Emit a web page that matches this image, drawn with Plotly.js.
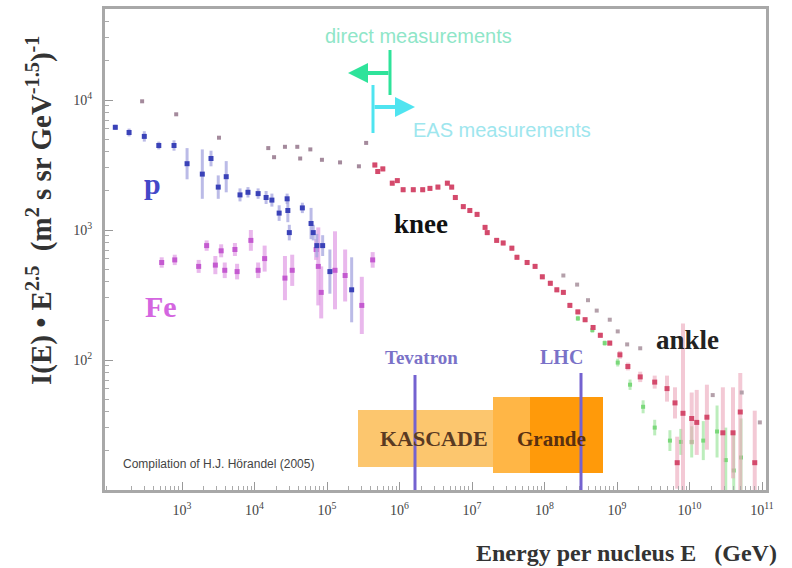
<!DOCTYPE html>
<html>
<head>
<meta charset="utf-8">
<script src="https://cdn.plot.ly/plotly-3.0.1.min.js"></script>
<style>html,body{margin:0;padding:0;background:#fff;}#chart{width:792px;height:568px;}</style>
</head>
<body>
<div id="chart"></div>
<script>
// ---- data (log10 of energy per nucleus in GeV, log10 of I(E)*E^2.5) ----
// direct measurements: protons
const pLogE = [2.08,2.27,2.48,2.68,2.89,3.07,3.28,3.40,3.50,3.61,3.80,3.91,4.05,4.16,4.24,4.34,4.45,4.46,4.48,4.66,4.78,4.81,4.86,4.94,5.04,5.34];
const pLogI = [3.79,3.75,3.72,3.65,3.65,3.51,3.43,3.55,3.33,3.41,3.27,3.29,3.28,3.25,3.23,3.13,3.24,3.15,2.98,3.17,3.05,2.98,2.88,2.88,2.68,2.54];
const pErr  = [0.02,0.03,0.04,0.03,0.04,0.12,0.19,0.06,0.09,0.12,0.05,0.04,0.04,0.05,0.05,0.06,0.04,0.09,0.06,0.04,0.12,0.06,0.09,0.08,0.17,0.25];
// direct measurements: iron
const feLogE = [2.72,2.90,3.23,3.34,3.46,3.54,3.59,3.73,3.76,3.95,4.05,4.14,4.42,4.52,4.85,4.88,4.92,5.11,5.25,5.48,5.63];
const feLogI = [2.75,2.77,2.72,2.88,2.73,2.84,2.69,2.85,2.68,2.92,2.69,2.78,2.63,2.69,2.85,2.72,2.52,2.69,2.65,2.42,2.77];
const feErr  = [0.04,0.04,0.05,0.04,0.07,0.05,0.06,0.05,0.06,0.08,0.06,0.10,0.17,0.12,0.08,0.30,0.20,0.30,0.20,0.22,0.06];
// direct measurements: all particles
const allDirLogE = [2.45,2.92,3.51,4.19,4.27,4.42,4.59,4.63,4.77,4.93,5.18,5.44,5.54];
const allDirLogI = [3.99,3.89,3.71,3.63,3.56,3.64,3.64,3.55,3.62,3.54,3.52,3.49,3.67];
// EAS measurements: all particles (main series)
const easLogE = [5.66,5.70,5.77,5.90,5.97,6.05,6.19,6.32,6.42,6.53,6.66,6.72,6.77,6.88,6.97,7.07,7.18,7.21,7.34,7.43,7.55,7.62,7.76,7.87,7.97,8.08,8.17,8.26,8.35,8.46,8.56,8.67,8.77,8.90,9.04,9.15,9.32,9.52,9.69,9.80,9.83,9.91,10.03,10.10,10.24,10.46,10.60,10.70,10.90];
const easLogI = [3.50,3.45,3.47,3.36,3.38,3.31,3.31,3.31,3.32,3.33,3.36,3.33,3.25,3.18,3.15,3.12,3.02,2.98,2.92,2.90,2.86,2.79,2.75,2.72,2.64,2.59,2.54,2.52,2.42,2.37,2.31,2.25,2.19,2.13,2.04,1.95,1.87,1.83,1.78,1.67,1.21,1.59,1.55,1.52,1.56,1.44,1.44,1.60,1.21];
const easErrUp = [0.02,0.02,0.02,0.02,0.02,0.02,0.02,0.02,0.02,0.02,0.02,0.02,0.02,0.02,0.02,0.02,0.02,0.02,0.02,0.02,0.02,0.02,0.02,0.02,0.02,0.02,0.02,0.02,0.02,0.02,0.02,0.02,0.02,0.02,0.03,0.03,0.04,0.05,0.10,0.12,0.20,0.69,0.20,0.25,0.25,0.35,0.35,0.30,0.40];
const easErrDn = [0.02,0.02,0.02,0.02,0.02,0.02,0.02,0.02,0.02,0.02,0.02,0.02,0.02,0.02,0.02,0.02,0.02,0.02,0.02,0.02,0.02,0.02,0.02,0.02,0.02,0.02,0.02,0.02,0.02,0.02,0.02,0.02,0.02,0.02,0.03,0.03,0.04,0.05,0.10,0.12,0.20,0.59,0.20,0.25,0.25,0.44,0.35,0.60,0.21];
// EAS: second (green) series
const grLogE = [8.46,8.66,8.83,9.01,9.18,9.36,9.52,9.73,9.88,10.03,10.19,10.38,10.50,10.61,10.71];
const grLogI = [2.32,2.23,2.13,1.98,1.81,1.64,1.48,1.38,1.37,1.37,1.38,1.45,1.23,1.15,1.25];
const grErr  = [0.02,0.02,0.02,0.03,0.04,0.05,0.06,0.08,0.10,0.12,0.15,0.20,0.25,0.30,0.30];
// EAS: third (grey) series
const gyLogE = [8.26,8.45,8.60,8.72,8.90,9.01,9.14,9.32,10.32,10.72,10.97];
const gyLogI = [2.65,2.58,2.46,2.38,2.31,2.22,2.12,2.09,1.73,1.75,1.52];

// axis tick labels
const xTickExp = [3,4,5,6,7,8,9,10,11];
const yTickExp = [2,3,4];

// ---- helpers ----
const lin = a => a.map(v => Math.pow(10, v));
const errPlus  = (y, e) => y.map((v, i) => Math.pow(10, v + e[i]) - Math.pow(10, v));
const errMinus = (y, e) => y.map((v, i) => Math.pow(10, v) - Math.pow(10, v - e[i]));

function series(lx, ly, color, size, eUp, eDn, ecolor, ethick) {
  const t = {
    x: lin(lx), y: lin(ly), type: 'scatter', mode: 'markers',
    marker: {symbol: 'square', size: size, color: color, line: {width: 0}},
    hoverinfo: 'x+y'
  };
  if (eUp) {
    t.error_y = {type: 'data', symmetric: false, array: errPlus(ly, eUp),
      arrayminus: errMinus(ly, eDn || eUp), color: ecolor, thickness: ethick, width: 0};
  }
  return t;
}

const traces = [
  series(feLogE, feLogI, '#c45ad0', 5, feErr, feErr, 'rgba(225,160,230,0.75)', 4),
  series(pLogE, pLogI, '#3a42b8', 5, pErr, pErr, 'rgba(170,170,225,0.8)', 3),
  series(allDirLogE, allDirLogI, '#a48a9c', 4),
  series(grLogE, grLogI, '#7ad87a', 4, grErr, grErr, 'rgba(160,230,160,0.7)', 3),
  series(easLogE, easLogI, '#d44a6c', 5, easErrUp, easErrDn, 'rgba(235,165,185,0.6)', 4),
  series(gyLogE, gyLogI, '#b4a0aa', 4)
];

// minor ticks (axis decoration)
const minorX = [], minorY = [];
for (let k = 1; k <= 11; k++) for (let m = 2; m <= 9; m++) { minorX.push(m * Math.pow(10, k)); }
for (let k = 1; k <= 4; k++) for (let m = 2; m <= 9; m++) { minorY.push(m * Math.pow(10, k)); }

// pixel -> paper helpers for decorations
const L = 105, R = 766, T = 9, B = 490;
const px = x => (x - L) / (R - L);
const py = y => (B - y) / (B - T);

const serif = 'Liberation Serif';
const sans = 'Liberation Sans';

function label(x, y, text, family, size, color, extra) {
  return Object.assign({xref: 'paper', yref: 'paper', x: px(x), y: py(y), text: text,
    showarrow: false, xanchor: 'center', yanchor: 'middle',
    font: {family: family, size: size, color: color}}, extra || {});
}

const axisCommon = {
  type: 'log', showline: true, linecolor: '#a8a8a8', linewidth: 3, mirror: true,
  ticks: 'inside', ticklen: 8, tickcolor: '#999', tickwidth: 1,
  showgrid: false, zeroline: false,
  tickfont: {family: serif, size: 14, color: '#444'}
};

const layout = {
  width: 792, height: 568,
  margin: {l: L, r: 792 - R, t: T, b: 568 - B},
  paper_bgcolor: '#ffffff', plot_bgcolor: '#ffffff',
  showlegend: false,
  xaxis: Object.assign({}, axisCommon, {
    range: [1.938, 11.055], tickmode: 'array',
    tickvals: xTickExp.map(e => Math.pow(10, e)),
    ticktext: xTickExp.map(e => '10<sup>' + e + '</sup>'),
    ticklabelstandoff: 5,
    minor: {tickmode: 'array', tickvals: minorX, ticks: 'inside', ticklen: 4, tickcolor: '#aaa', showgrid: false}
  }),
  yaxis: Object.assign({}, axisCommon, {
    range: [1.0, 4.7], tickmode: 'array',
    tickvals: yTickExp.map(e => Math.pow(10, e)),
    ticktext: yTickExp.map(e => '10<sup>' + e + '</sup>'),
    ticklabelstandoff: 7,
    minor: {tickmode: 'array', tickvals: minorY, ticks: 'inside', ticklen: 4, tickcolor: '#aaa', showgrid: false}
  }),
  shapes: [
    // KASCADE box
    {type: 'rect', xref: 'paper', yref: 'paper', x0: px(358), x1: px(530), y0: py(467), y1: py(410),
      fillcolor: '#fcc66e', line: {width: 0}, layer: 'above'},
    // Grande box
    {type: 'rect', xref: 'paper', yref: 'paper', x0: px(493), x1: px(603), y0: py(473), y1: py(397),
      fillcolor: '#ff9a0a', line: {width: 0}, layer: 'above'},
    {type: 'rect', xref: 'paper', yref: 'paper', x0: px(493), x1: px(530), y0: py(473), y1: py(397),
      fillcolor: 'rgba(255,205,120,0.55)', line: {width: 0}, layer: 'above'},
    // Tevatron and LHC lines
    {type: 'line', xref: 'paper', yref: 'paper', x0: px(415), x1: px(415), y0: 0, y1: py(375),
      line: {color: '#7462d0', width: 3}, layer: 'above'},
    {type: 'line', xref: 'paper', yref: 'paper', x0: px(581), x1: px(581), y0: 0, y1: py(373),
      line: {color: '#7462d0', width: 3}, layer: 'above'},
    // arrow end bars
    {type: 'line', xref: 'paper', yref: 'paper', x0: px(390), x1: px(390), y0: py(95), y1: py(50),
      line: {color: '#2ee39a', width: 3}},
    {type: 'line', xref: 'paper', yref: 'paper', x0: px(373), x1: px(373), y0: py(133), y1: py(85),
      line: {color: '#4fe4f0', width: 3}}
  ],
  annotations: [
    {xref: 'paper', yref: 'paper', x: px(348), y: py(73), ax: 42, ay: 0, text: '', showarrow: true,
      arrowhead: 2, arrowsize: 1, arrowwidth: 4, arrowcolor: '#2ee39a'},
    {xref: 'paper', yref: 'paper', x: px(415), y: py(107), ax: -42, ay: 0, text: '', showarrow: true,
      arrowhead: 2, arrowsize: 1, arrowwidth: 4, arrowcolor: '#4fe4f0'},
    label(418, 36, 'direct measurements', sans, 20, '#8fe6c8'),
    label(502, 130, 'EAS measurements', sans, 20, '#9ee6ee'),
    label(152, 183, '<b>p</b>', serif, 30, '#4448c8'),
    label(161, 307, '<b>Fe</b>', serif, 30, '#d466e0'),
    label(421, 224, '<b>knee</b>', serif, 27, '#111'),
    label(687, 340, '<b>ankle</b>', serif, 27, '#222'),
    label(421, 357, '<b>Tevatron</b>', serif, 19, '#7a72c8'),
    label(561, 357, '<b>LHC</b>', serif, 20, '#7a72c8'),
    label(434, 438, '<b>KASCADE</b>', serif, 22, '#5a3a22'),
    label(551, 439, '<b>Grande</b>', serif, 21, '#5a3010'),
    label(121, 464, 'Compilation of H.J. Hörandel (2005)', sans, 12, '#444', {xanchor: 'left'}),
    label(40, 210, '<b>I(E) • E<sup>2.5</sup>  (m<sup>2</sup> s sr GeV<sup>-1.5</sup>)<sup>-1</sup></b>', serif, 29, '#333', {textangle: -90}),
    label(779, 553, '<b>Energy per nucleus E   (GeV)</b>', serif, 24, '#333', {xanchor: 'right'})
  ]
};

Plotly.newPlot('chart', traces, layout, {staticPlot: true, displayModeBar: false});
</script>
</body>
</html>
